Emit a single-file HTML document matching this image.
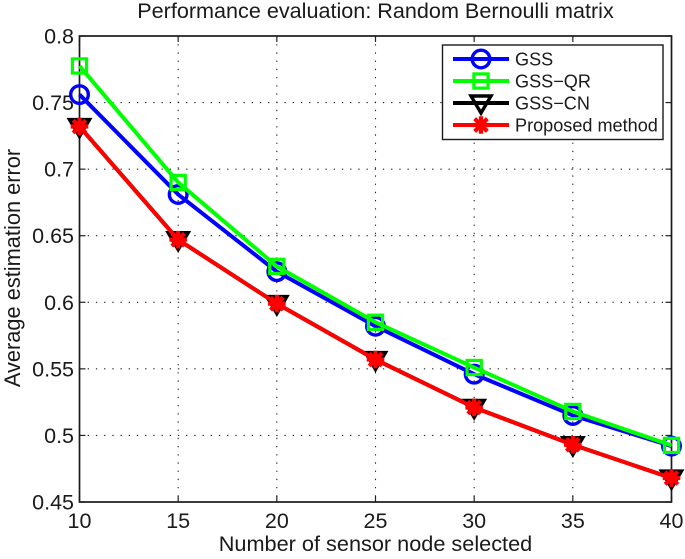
<!DOCTYPE html>
<html>
<head>
<meta charset="utf-8">
<style>
html,body{margin:0;padding:0;background:#fff;}
svg{display:block;filter:blur(0.35px);}
text{font-family:"Liberation Sans",sans-serif;fill:#1a1a1a;}
</style>
</head>
<body>
<svg id="chart" width="685" height="559" viewBox="0 0 685 559" xmlns="http://www.w3.org/2000/svg"></svg>
<script>
const categories = [10, 15, 20, 25, 30, 35, 40];
const gssValues = [0.756, 0.681, 0.623, 0.582, 0.546, 0.515, 0.492];
const gssQrValues = [0.7775, 0.690, 0.627, 0.585, 0.551, 0.518, 0.4925];
const gssCnValues = [0.732, 0.647, 0.599, 0.557, 0.521, 0.493, 0.468];
const proposedValues = [0.732, 0.647, 0.599, 0.557, 0.521, 0.493, 0.468];
const yTickValues = [0.45, 0.5, 0.55, 0.6, 0.65, 0.7, 0.75, 0.8];
const yTickLabels = ['0.45', '0.5', '0.55', '0.6', '0.65', '0.7', '0.75', '0.8'];
const xTickValues = [10, 15, 20, 25, 30, 35, 40];
const xTickLabels = ['10', '15', '20', '25', '30', '35', '40'];
const legendLabels = ['GSS', 'GSS\u2212QR', 'GSS\u2212CN', 'Proposed method'];

const NS = 'http://www.w3.org/2000/svg';
const svg = document.getElementById('chart');
const L = 79.5, R = 671.5, T = 36, B = 502;
const xMin = 10, xMax = 40, yMin = 0.45, yMax = 0.8;
function xScale(v) { return L + (v - xMin) / (xMax - xMin) * (R - L); }
function yScale(v) { return B - (v - yMin) / (yMax - yMin) * (B - T); }

function make(tag, attrs, parent) {
  const el = document.createElementNS(NS, tag);
  for (const k in attrs) el.setAttribute(k, attrs[k]);
  (parent || svg).appendChild(el);
  return el;
}

function drawMarker(kind, cx, cy, color, parent, hollow) {
  if (kind === 'circle') {
    make('circle', {cx: cx, cy: cy, r: 8.8, fill: 'none', stroke: color, 'stroke-width': 3.4}, parent);
  } else if (kind === 'square') {
    make('rect', {x: cx - 7.1, y: cy - 7.1, width: 14.2, height: 14.2, fill: 'none', stroke: color, 'stroke-width': 3.2}, parent);
  } else if (kind === 'triangle') {
    make('path', {d: 'M' + (cx - 10) + ' ' + (cy - 7) + 'H' + (cx + 10) + 'L' + cx + ' ' + (cy + 10) + 'Z', fill: hollow ? 'none' : color, stroke: color, 'stroke-width': 3.4, 'stroke-linejoin': 'miter'}, parent);
  } else if (kind === 'star') {
    const r = 8.8, d = r * 0.72;
    make('path', {d: 'M' + cx + ' ' + (cy - r) + 'V' + (cy + r) +
      'M' + (cx - r) + ' ' + cy + 'H' + (cx + r) +
      'M' + (cx - d) + ' ' + (cy - d) + 'L' + (cx + d) + ' ' + (cy + d) +
      'M' + (cx - d) + ' ' + (cy + d) + 'L' + (cx + d) + ' ' + (cy - d),
      fill: 'none', stroke: color, 'stroke-width': 4.2}, parent);
  }
}

/* background */
const bg = make('rect', {x: L, y: T, width: R - L, height: B - T, fill: '#fff'});



/* grid */
const grid = make('g', {stroke: '#222', 'stroke-width': 1.1, 'stroke-dasharray': '1.3 6.9', fill: 'none'});


xTickValues.slice(1, -1).forEach(function (v) {
  make('line', {x1: xScale(v), x2: xScale(v), y1: T, y2: B}, grid);
});
yTickValues.slice(1, -1).forEach(function (v) {
  make('line', {x1: L, x2: R, y1: yScale(v), y2: yScale(v)}, grid);
});

/* ticks */
const ticks = make('g', {stroke: '#222', 'stroke-width': 1.2});


xTickValues.forEach(function (v) {
  make('line', {x1: xScale(v), x2: xScale(v), y1: B, y2: B - 6}, ticks);
  make('line', {x1: xScale(v), x2: xScale(v), y1: T, y2: T + 6}, ticks);
});
yTickValues.forEach(function (v) {
  make('line', {x1: L, x2: L + 6, y1: yScale(v), y2: yScale(v)}, ticks);
  make('line', {x1: R, x2: R - 6, y1: yScale(v), y2: yScale(v)}, ticks);
});

/* axes box */
const box = make('rect', {x: L, y: T, width: R - L, height: B - T, fill: 'none', stroke: '#1a1a1a', 'stroke-width': 1.7});



/* tick labels */
yTickValues.forEach(function (v, i) {
  const t = make('text', {x: 74, y: yScale(v) + 7.5, 'text-anchor': 'end', 'font-size': 21.5});
  t.textContent = yTickLabels[i];
  
  
});
xTickValues.forEach(function (v, i) {
  const t = make('text', {x: xScale(v), y: 528, 'text-anchor': 'middle', 'font-size': 21.5});
  t.textContent = xTickLabels[i];
  
  
});

/* titles */
const title = make('text', {x: 375.5, y: 18, 'text-anchor': 'middle', 'font-size': 21.6});
title.textContent = 'Performance evaluation: Random Bernoulli matrix';



const xTitle = make('text', {x: 375.5, y: 551, 'text-anchor': 'middle', 'font-size': 21.7});
xTitle.textContent = 'Number of sensor node selected';



const yTitle = make('text', {x: 0, y: 0, 'text-anchor': 'middle', 'font-size': 21.8, transform: 'translate(20 268) rotate(-90)'});
yTitle.textContent = 'Average estimation error';



/* series */
const seriesBlue = make('g', {});


const seriesGreen = make('g', {});


const seriesBlack = make('g', {});


const seriesRed = make('g', {});



function drawSeries(group, values, color, kind) {
  const pts = values.map(function (v, i) { return xScale(categories[i]) + ',' + yScale(v); }).join(' ');
  make('polyline', {points: pts, fill: 'none', stroke: color, 'stroke-width': 4, 'stroke-linejoin': 'round'}, group);
  values.forEach(function (v, i) {
    drawMarker(kind, xScale(categories[i]), yScale(v), color, group, false);
  });
}
drawSeries(seriesBlue, gssValues, '#0000ff', 'circle');
drawSeries(seriesGreen, gssQrValues, '#00ff00', 'square');
drawSeries(seriesBlack, gssCnValues, '#000000', 'triangle');
drawSeries(seriesRed, proposedValues, '#ff0000', 'star');

/* legend */
const legend = make('g', {});


make('rect', {x: 442.5, y: 45, width: 220.5, height: 94.5, fill: '#fff', stroke: '#1a1a1a', 'stroke-width': 1.4}, legend);
const legendColors = ['#0000ff', '#00ff00', '#000000', '#ff0000'];
const legendKinds = ['circle', 'square', 'triangle', 'star'];
const legendRows = [59, 81, 103, 125];
legendLabels.forEach(function (label, i) {
  const row = make('g', {}, legend);
  
  
  make('line', {x1: 453, x2: 509, y1: legendRows[i], y2: legendRows[i], stroke: legendColors[i], 'stroke-width': 4}, row);
  drawMarker(legendKinds[i], 481, legendRows[i], legendColors[i], row, true);
  const t = make('text', {x: 515, y: legendRows[i] + 6.5, 'font-size': 18.1}, row);
  t.textContent = label;
});
</script>
</body>
</html>
